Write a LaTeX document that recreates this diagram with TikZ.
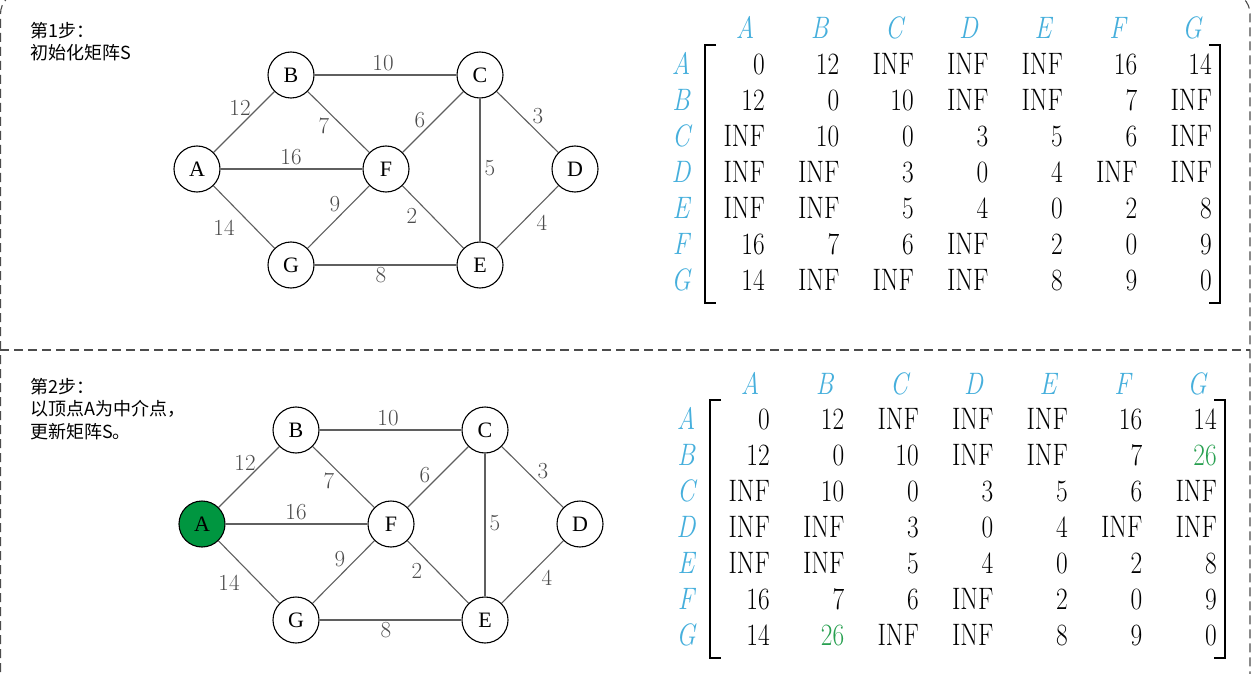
\documentclass[tikz,border=0pt]{standalone}
\usepackage{fontspec}
\usepackage{xcolor}
\usepackage{tikz}
\usetikzlibrary{positioning}
\newfontfamily\cjkfont{Noto Sans CJK SC}
\newfontfamily\vertexfont{Liberation Serif}
\definecolor{stepgreen}{RGB}{0,150,64}
\definecolor{numgreen}{RGB}{40,160,80}
\definecolor{headblue}{RGB}{70,175,220}
\definecolor{edgegray}{RGB}{95,95,95}
\newcommand{\matcell}[1]{\scalebox{0.82}[1]{#1}}

\begin{document}
\begin{tikzpicture}[x=1pt,y=-1pt,
  vertex/.style={circle,draw,line width=1.1pt,minimum size=46pt,inner sep=0pt,font=\vertexfont\fontsize{22}{22}\selectfont},
  wlink/.style={draw=edgegray,line width=1.1pt},
  wlabel/.style={text=black!70,font=\fontsize{23}{23}\selectfont,inner sep=0pt},
  cell/.style={anchor=base east,inner sep=0pt,font=\fontsize{31}{31}\selectfont},
  head/.style={anchor=base,inner sep=0pt,text=headblue,font=\fontsize{31}{31}\selectfont\itshape},
  bracket/.style={line width=1.8pt},
  framedash/.style={draw=black!70,line width=1.1pt,dash pattern=on 9pt off 5pt},
  steptext/.style={anchor=north west,inner sep=0pt,align=left,font=\cjkfont\fontsize{18}{22.5}\selectfont}]
\clip (0,0) rectangle (1259,674);

% frame and separator
\draw[framedash,rounded corners=22pt] (0.5,700) -- (0.5,-8) -- (1250,-8) -- (1250,700);
\draw[framedash] (0,350) -- (1250,350);

\node[steptext] (step1) at (30,22) {第1步：\\初始化矩阵S};
\node[steptext] (step2) at (30,378) {第2步：\\以顶点A为中介点，\\更新矩阵S。};

\foreach \p/\dx/\dy/\afill/\bgcell in {1/0/0/white/INF,2/5/355/stepgreen/{\textcolor{numgreen}{26}}} {
  \begin{scope}[shift={(\dx,\dy)}]
    % graph
    \node[vertex,fill=\afill] (A\p) at (197,169) {A};
    \node[vertex] (B\p) at (291,75) {B};
    \node[vertex] (C\p) at (480,75) {C};
    \node[vertex] (F\p) at (386,169) {F};
    \node[vertex] (D\p) at (575,169) {D};
    \node[vertex] (G\p) at (291,265) {G};
    \node[vertex] (E\p) at (480,265) {E};

    \draw[wlink] (A\p) -- (B\p);
    \draw[wlink] (A\p) -- (F\p);
    \draw[wlink] (A\p) -- (G\p);
    \draw[wlink] (B\p) -- (C\p);
    \draw[wlink] (B\p) -- (F\p);
    \draw[wlink] (C\p) -- (F\p);
    \draw[wlink] (C\p) -- (D\p);
    \draw[wlink] (C\p) -- (E\p);
    \draw[wlink] (F\p) -- (E\p);
    \draw[wlink] (F\p) -- (G\p);
    \draw[wlink] (G\p) -- (E\p);
    \draw[wlink] (D\p) -- (E\p);

    \node[wlabel] (wab\p) at (240,108) {12};
    \node[wlabel] (waf\p) at (291,157) {16};
    \node[wlabel] (wag\p) at (224,228) {14};
    \node[wlabel] (wbc\p) at (383,63) {10};
    \node[wlabel] (wbf\p) at (324,126) {7};
    \node[wlabel] (wcf\p) at (420,120) {6};
    \node[wlabel] (wcd\p) at (538,116) {3};
    \node[wlabel] (wce\p) at (490,168) {5};
    \node[wlabel] (wfe\p) at (412,216) {2};
    \node[wlabel] (wfg\p) at (335,204) {9};
    \node[wlabel] (wge\p) at (381,275) {8};
    \node[wlabel] (wde\p) at (542,223) {4};

    % matrix
    \draw[bracket] (716,45) -- (705,45) -- (705,303) -- (716,303);
    \draw[bracket] (1209,45) -- (1220,45) -- (1220,303) -- (1209,303);
    \foreach \name [count=\j] in {A,...,G} {
      \node[head] (h\p-\j) at ({745+74.5*(\j-1)},39) {\matcell{\name}};
      \node[head] (r\p-\j) at (681,{74.5+36*(\j-1)}) {\matcell{\name}};
    }
    \foreach \row [count=\i] in {{0,12,INF,INF,INF,16,14},{12,0,10,INF,INF,7,\bgcell},{INF,10,0,3,5,6,INF},{INF,INF,3,0,4,INF,INF},{INF,INF,5,4,0,2,8},{16,7,6,INF,2,0,9},{14,\bgcell,INF,INF,8,9,0}}
      \foreach \v [count=\j] in \row
        \node[cell] (m\p-\i-\j) at ({765+74.5*(\j-1)},{74.5+36*(\i-1)}) {\matcell{\v}};
  \end{scope}
}
\end{tikzpicture}
\end{document}
